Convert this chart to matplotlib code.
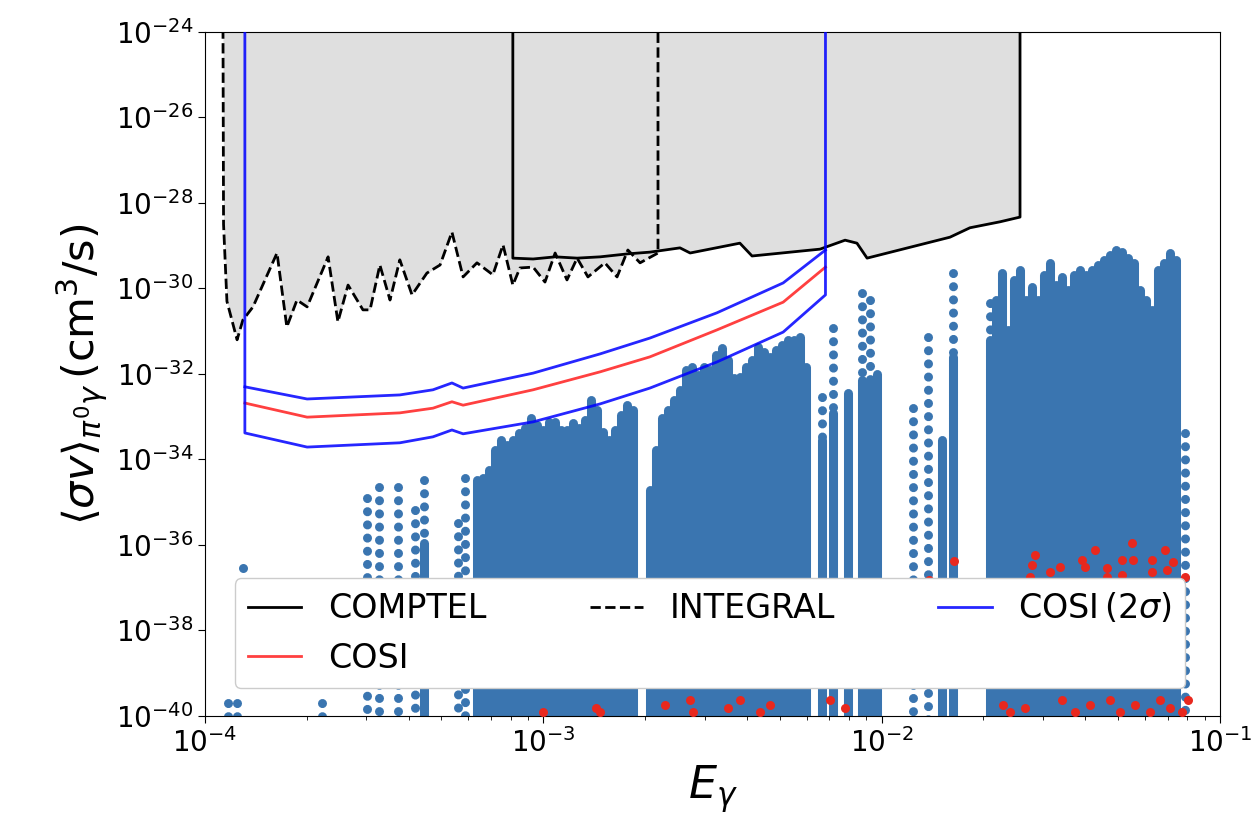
import numpy as np
import matplotlib.pyplot as plt
from matplotlib.ticker import NullLocator

# --- limits (log10 of E_gamma and of <sigma v>) ---
comptel_logE = [-3.090, -3.090, -3.030, -2.965, -2.900, -2.832, -2.750, -2.685, -2.596, -2.566,
                -2.419, -2.383, -2.182, -2.108, -2.073, -2.043, -1.798, -1.739, -1.650, -1.591, -1.591]
comptel_logsv = [-23.0, -29.29, -29.31, -29.26, -29.29, -29.26, -29.19, -29.15, -29.05, -29.17,
                 -28.94, -29.24, -29.08, -28.87, -28.94, -29.29, -28.80, -28.58, -28.44, -28.33, -23.0]

integral_logE = [-3.947, -3.945, -3.935, -3.905, -3.888, -3.858, -3.787, -3.758, -3.728, -3.698,
                 -3.636, -3.607, -3.577, -3.533, -3.512, -3.483, -3.453, -3.424, -3.388, -3.344,
                 -3.305, -3.270, -3.237, -3.196, -3.149, -3.119, -3.090, -3.069, -3.030, -2.995,
                 -2.965, -2.930, -2.900, -2.868, -2.818, -2.782, -2.750, -2.714, -2.661, -2.661]
integral_logsv = [-23.0, -28.5, -30.3, -31.20, -30.74, -30.43, -29.17, -30.90, -30.27, -30.43,
                  -29.26, -30.78, -29.92, -30.50, -30.50, -29.45, -30.27, -29.33, -30.15, -29.64,
                  -29.45, -28.68, -29.73, -29.40, -29.68, -28.98, -29.92, -29.52, -29.50, -29.85,
                  -29.17, -29.80, -29.29, -29.73, -29.40, -29.73, -29.10, -29.40, -29.17, -23.0]

cosi_logE = [-3.882, -3.698, -3.424, -3.326, -3.270, -3.237, -3.030, -2.832, -2.685, -2.487, -2.291, -2.166]
cosi_logsv = [-32.68, -33.01, -32.91, -32.80, -32.65, -32.73, -32.37, -31.95, -31.60, -30.97, -30.32, -29.50]
cosi_up_logsv = [-32.30, -32.585, -32.49, -32.37, -32.21, -32.33, -31.98, -31.53, -31.16, -30.57, -29.87, -29.10]
cosi_lo_logsv = [-33.38, -33.71, -33.61, -33.47, -33.31, -33.40, -33.12, -32.70, -32.33, -31.72, -31.02, -30.15]

# --- model points: columns of points (E, highest <sigma v>), they run down past 1e-40 ---
block1_logE = [-3.196, -3.178, -3.160, -3.143, -3.125, -3.107, -3.090, -3.072, -3.054, -3.036,
               -3.019, -3.001, -2.983, -2.965, -2.948, -2.930, -2.912, -2.894, -2.877, -2.859,
               -2.841, -2.823, -2.806, -2.788, -2.770, -2.752, -2.734]
block1_top = [-34.48, -34.43, -34.25, -33.78, -33.54, -33.66, -33.54, -33.38, -33.26, -33.03,
              -33.19, -33.31, -33.12, -33.12, -33.31, -33.31, -33.15, -33.26, -33.08, -32.61,
              -32.84, -33.36, -33.54, -33.31, -32.96, -32.72, -32.84]
block2_logE = [-2.685, -2.667, -2.650, -2.632, -2.614, -2.596, -2.579, -2.561, -2.543, -2.525,
               -2.508, -2.490, -2.472, -2.454, -2.437, -2.419, -2.401, -2.383, -2.366, -2.348,
               -2.330, -2.312, -2.295, -2.277, -2.259, -2.241, -2.224]
block2_top = [-34.71, -33.78, -33.03, -32.84, -32.61, -32.37, -31.91, -31.84, -32.02, -31.84,
              -31.91, -31.55, -31.39, -31.67, -32.09, -32.07, -31.84, -31.67, -31.37, -31.48,
              -31.60, -31.44, -31.32, -31.20, -31.20, -31.13, -31.84]
block3_logE = [-1.680, -1.662, -1.645, -1.627, -1.609, -1.591, -1.574, -1.556, -1.538, -1.520,
               -1.503, -1.485, -1.467, -1.449, -1.432, -1.414, -1.396, -1.378, -1.361, -1.343,
               -1.325, -1.307, -1.290, -1.272, -1.254, -1.236, -1.219, -1.201, -1.183, -1.165,
               -1.148, -1.130]
block3_top = [-31.20, -30.27, -29.64, -30.97, -29.80, -29.57, -30.27, -29.96, -30.27, -29.68,
              -29.40, -29.92, -29.73, -30.03, -29.68, -29.57, -29.68, -29.57, -29.45, -29.33,
              -29.22, -29.10, -29.15, -29.29, -29.40, -30.03, -30.27, -30.50, -29.57, -29.40,
              -29.17, -29.33]
solid_logE = [-3.353, -2.176, -2.144, -2.099, -2.058, -2.034, -2.014, -1.821, -1.789]
solid_top = [-35.95, -33.54, -32.91, -32.44, -32.14, -32.14, -32.00, -33.54, -31.60]
sparse_logE = [-3.932, -3.905, -3.654, -3.521, -3.486, -3.430, -3.379, -3.353, -3.252, -3.231,
               -2.176, -2.144, -2.058, -2.034, -1.907, -1.863, -1.789, -1.680, -1.103]
sparse_top = [-39.69, -39.69, -39.69, -34.90, -34.64, -34.64, -35.18, -34.48, -35.48, -34.43,
              -32.54, -30.92, -30.10, -30.27, -32.80, -31.13, -29.64, -30.34, -33.38]
single_logE = [-3.888]
single_logsv = [-36.54]

red_logE = [-1.547, -1.555, -1.502, -1.473, -1.408, -1.399, -1.369, -1.334, -1.289, -1.260,
            -1.257, -1.201, -1.201, -1.162, -1.139, -1.156, -1.103, -1.289, -1.334, -1.561,
            -1.786, -1.860,
            -3.001, -2.844, -2.832, -2.640, -2.566, -2.558, -2.454, -2.419, -2.359, -2.330,
            -2.153, -2.108, -1.641, -1.620, -1.576, -1.467, -1.428, -1.384, -1.325, -1.295,
            -1.251, -1.207, -1.177, -1.148, -1.112, -1.094]
red_logsv = [-36.23, -36.47, -36.63, -36.51, -36.35, -36.51, -36.12, -36.54, -36.35, -35.95,
             -36.35, -36.35, -36.63, -36.12, -36.40, -36.58, -36.75, -36.70, -36.75, -36.75,
             -36.37, -36.82,
             -39.91, -39.81, -39.91, -39.74, -39.63, -39.91, -39.81, -39.63, -39.91, -39.74,
             -39.63, -39.81, -39.74, -39.91, -39.81, -39.63, -39.91, -39.74, -39.63, -39.91,
             -39.74, -39.91, -39.63, -39.81, -39.91, -39.63]

dot_blue = '#3a75b0'
dot_red = '#e8281e'
gray = '#dfdfdf'
TOP = 1e-23
BOTTOM = 1e-41

def p(v):
    return 10.0 ** np.asarray(v)

fig, ax = plt.subplots(figsize=(12.55, 8.33), dpi=100)
fig.subplots_adjust(left=0.1633, right=0.9721, top=0.9616, bottom=0.1405)
ax.set_xscale('log')
ax.set_yscale('log')

# excluded regions
ax.fill_between(p(integral_logE), p(integral_logsv), TOP, color=gray, lw=0, zorder=1)
ax.fill_between(p(comptel_logE), p(comptel_logsv), TOP, color=gray, lw=0, zorder=1)

# model points
for xs, tops in [(block1_logE, block1_top), (block2_logE, block2_top),
                 (block3_logE, block3_top), (solid_logE, solid_top)]:
    for x, t in zip(p(xs), p(tops)):
        ax.plot([x, x], [t, BOTTOM], color=dot_blue, lw=6.5, solid_capstyle='round', zorder=2)
for x, t in zip(p(sparse_logE), p(sparse_top)):
    ax.plot([x, x], [t, BOTTOM], color=dot_blue, lw=6.5, ls=(0, (0.01, 1.45)),
            dash_capstyle='round', zorder=2)
ax.scatter(p(single_logE), p(single_logsv), s=42, color=dot_blue, lw=0, zorder=2)
ax.scatter(p(red_logE), p(red_logsv), s=42, color=dot_red, lw=0, zorder=3)

# limit lines
ax.plot(p(comptel_logE), p(comptel_logsv), color='k', lw=2, zorder=4, label='COMPTEL')
ax.plot(p(cosi_logE), p(cosi_logsv), color='red', alpha=0.75, lw=2, zorder=4, label='COSI')
ax.plot(p(integral_logE), p(integral_logsv), color='k', ls='--', lw=2, zorder=4, label='INTEGRAL')
cosi_band_x = p([cosi_logE[0]] + cosi_logE + [cosi_logE[-1]])
cosi_band_y = p([-23.0] + cosi_lo_logsv + [-23.0])
ax.plot(cosi_band_x, cosi_band_y, color='blue', alpha=0.85, lw=2, zorder=4, label=r'COSI$\,(2\sigma)$')
ax.plot(p(cosi_logE), p(cosi_up_logsv), color='blue', alpha=0.85, lw=2, zorder=4)

ax.set_xlim(1e-4, 1e-1)
ax.set_ylim(1e-40, 1e-24)
ax.set_yticks([10.0 ** k for k in range(-40, -23, 2)])
ax.yaxis.set_minor_locator(NullLocator())
ax.tick_params(which='major', labelsize=20, length=5)
ax.tick_params(which='minor', length=3)

ax.set_xlabel(r'$E_\gamma$', fontsize=32)
ax.set_ylabel(r'$\langle\sigma v\rangle_{\pi^0\gamma}\,(\mathrm{cm}^3/\mathrm{s})$', fontsize=31)

ax.legend(loc='lower left', bbox_to_anchor=(0.0128, 0.016, 0.9695, 0.2), mode='expand',
          ncol=3, fontsize=24, framealpha=1, handlelength=1.6)

plt.savefig('out.png', dpi=100)
